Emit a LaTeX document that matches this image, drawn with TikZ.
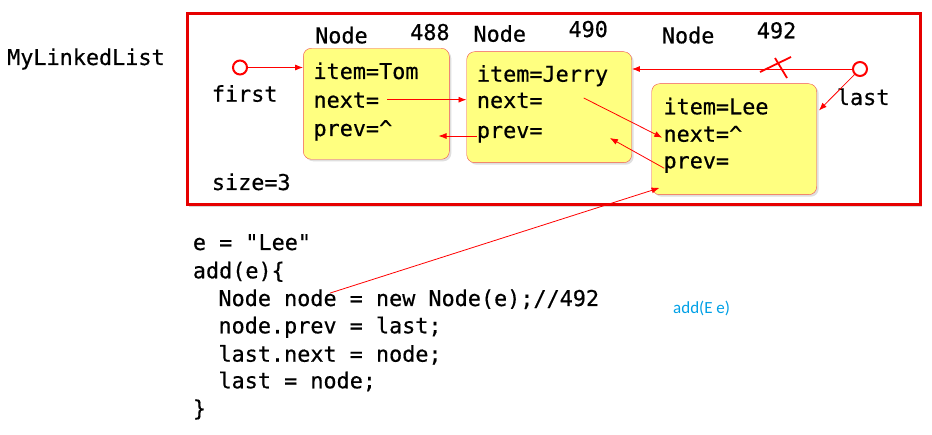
\documentclass[tikz,border=0pt]{standalone}
\usepackage{fontspec}
\setmonofont{DejaVu Sans Mono}[RawFeature={embolden=0.5}]
\newfontfamily\notefont{Carlito}
\usetikzlibrary{arrows.meta,shadows,calc}
\definecolor{cellfill}{RGB}{255,255,128}
\definecolor{cellline}{RGB}{240,80,80}
\definecolor{framered}{RGB}{230,0,0}
\definecolor{noteblue}{RGB}{0,160,230}
\begin{document}
\begin{tikzpicture}[x=1pt,y=-1pt,
  txt/.style={anchor=west,inner sep=0pt,font=\ttfamily\fontsize{21.8}{26}\selectfont,text height=16pt,text depth=4pt},
  cell/.style={draw=cellline,fill=cellfill,rounded corners=8pt,inner sep=0pt,minimum height=111pt,
    drop shadow={opacity=.25,shadow xshift=2pt,shadow yshift=-2pt}},
  listframe/.style={draw=framered,line width=3pt,fill=white,inner sep=0pt,
    drop shadow={opacity=.3,shadow xshift=2pt,shadow yshift=-2pt}},
  ptr/.style={circle,draw=red,line width=2pt,fill=white,minimum size=14pt,inner sep=0pt},
  link/.style={red,line width=.8pt,-{Latex[length=8pt,width=6pt]}},
  cutmark/.style={red,line width=1.8pt}]
\useasboundingbox (0,0) rectangle (932,435);
\node[txt] (title) at (7,59) {MyLinkedList};
\node[listframe,minimum width=733pt,minimum height=191pt] (list) at (553.5,109.5) {};
\node[cell,minimum width=146pt] (tom) at (376.3,103.8) {};
\node[cell,minimum width=165pt] (jerry) at (549.2,107.2) {};
\node[cell,minimum width=165pt] (lee) at (734.2,139.2) {};
\node[txt] (tomlabel) at (315,37.3) {Node};
\node[txt] (tomaddr) at (410,34) {488};
\node[txt] (jerrylabel) at (473.3,35.7) {Node};
\node[txt] (jerryaddr) at (568.3,31) {490};
\node[txt] (leelabel) at (661.7,37.3) {Node};
\node[txt] (leeaddr) at (756.7,32.3) {492};
\node[txt] (tomitem) at (313.3,73) {item=Tom};
\node[txt] (tomnext) at (313.3,101.7) {next=};
\node[txt] (tomprev) at (313.3,130) {prev=\^{}};
\node[txt] (jerryitem) at (476.7,75.7) {item=Jerry};
\node[txt] (jerrynext) at (476.7,102) {next=};
\node[txt] (jerryprev) at (476.7,132) {prev=};
\node[txt] (leeitem) at (663.3,108.3) {item=Lee};
\node[txt] (leenext) at (663.3,135.7) {next=\^{}};
\node[txt] (leeprev) at (663.3,162.3) {prev=};
\node[ptr] (first) at (240,67.5) {};
\node[txt] (firstlabel) at (211.7,95.7) {first};
\node[ptr] (last) at (860,69) {};
\node[txt] (lastlabel) at (836.7,99) {last};
\node[txt] (size) at (211.7,184) {size=3};
\node[txt] (codee) at (192.7,244) {e = "Lee"};
\node[txt] (codeadd) at (192.7,272.3) {add(e)\{};
\node[txt] (codenew) at (218.3,300) {Node node = new Node(e);//492};
\node[txt] (codeprev) at (218.3,327.3) {node.prev = last;};
\node[txt] (codenext) at (218.3,355.7) {last.next = node;};
\node[txt] (codelast) at (218.3,382.3) {last = node;};
\node[txt] (codeend) at (192.7,410) {\}};
\node[anchor=west,inner sep=0pt,font=\notefont\fontsize{17}{19}\selectfont,text=noteblue] (note) at (673,308) {add(E e)};
\draw[link] (first) -- (first -| tom.west);
\draw[link] ($(tomnext.east)+(8,-2)$) -- ($(tomnext -| jerry.west)+(0,-2)$);
\draw[link] ($(jerryprev.west)+(0,4)$) -- ($(tom.east |- jerryprev)+(-11,4)$);
\draw[link] (last) -- (last -| jerry.east);
\coordinate (cut) at (779,67);
\draw[cutmark] ($(cut)+(-19,5)$) -- ($(cut)+(12,-10)$) ($(cut)+(-4,-9)$) -- ($(cut)+(8,11)$);
\draw[link] (last) -- ($(lee.north east)+(2,27)$);
\draw[link] ($(jerrynext.east)+(41,-4)$) -- ($(leenext.west)+(-1,2)$);
\draw[link] ($(leeprev.west)+(1,6)$) -- ($(jerry.east |- jerryprev)+(-22,6)$);
\draw[link] ($(codenew.west)+(112,-7)$) -- ($(lee.south west)+(8,-7)$);
\end{tikzpicture}
\end{document}
